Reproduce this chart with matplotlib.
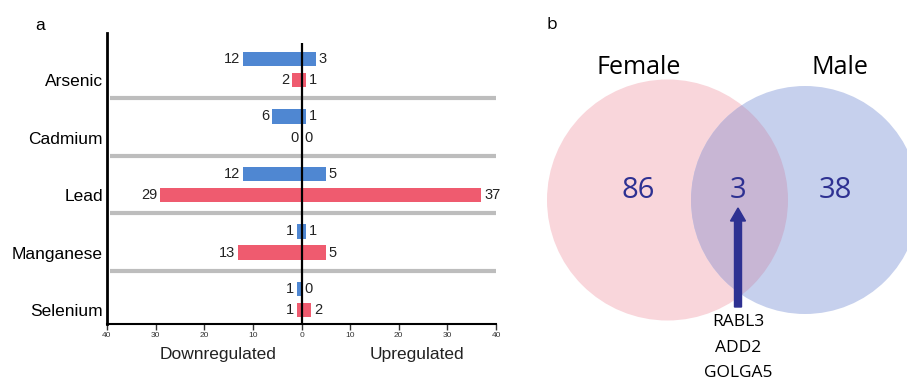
import numpy as np
import matplotlib
matplotlib.use('Agg')
import matplotlib.pyplot as plt
from matplotlib.patches import Circle, FancyArrow

# data
metals = ['Arsenic', 'Cadmium', 'Lead', 'Manganese', 'Selenium']
male_down = [12, 6, 12, 1, 1]
male_up = [3, 1, 5, 1, 0]
female_down = [2, 0, 29, 13, 1]
female_up = [1, 0, 37, 5, 2]

venn_labels = ['Female', 'Male']
venn_counts = [86, 3, 38]   # female only, shared, male only
shared_genes = ['RABL3', 'ADD2', 'GOLGA5']

blue = '#4f87d2'
red = '#ef5b6f'
navy = '#2e3192'

plt.rcParams['font.family'] = ['Liberation Sans', 'DejaVu Sans']

W, H = 907, 380
fig = plt.figure(figsize=(W / 100, H / 100), dpi=100)

# ---------------- panel a ----------------
ax = fig.add_axes([107 / W, 1 - 324 / H, (496 - 107) / W, (324 - 33) / H])
n = len(metals)
idx = np.arange(n)
yb = idx - 0.183
yr = idx + 0.183
bh = 0.25

ax.barh(yb, male_up, height=bh, color=blue, zorder=2)
ax.barh(yb, [-v for v in male_down], height=bh, color=blue, zorder=2)
ax.barh(yr, female_up, height=bh, color=red, zorder=2)
ax.barh(yr, [-v for v in female_down], height=bh, color=red, zorder=2)

for y, d, u in list(zip(yb, male_down, male_up)) + list(zip(yr, female_down, female_up)):
    ax.annotate(str(d), (-d, y), xytext=(-2, 0), textcoords='offset points',
                ha='right', va='center', fontsize=10.5, color='#222222')
    ax.annotate(str(u), (u, y), xytext=(2, 0), textcoords='offset points',
                ha='left', va='center', fontsize=10.5, color='#222222')

# separators between metals
ax.hlines(idx[:-1] + 0.5, -39.4, 40, color='#bdbdbd', lw=3, zorder=1)
ax.vlines(0, -0.46, 4.426, color='black', lw=1.6, zorder=3)

ax.set_xlim(-40, 40)
ax.set_ylim(4.426, -0.635)
ax.set_xticks(np.arange(-40, 41, 10))
ax.set_xticklabels([str(abs(t)) for t in range(-40, 41, 10)], fontsize=6)
ax.tick_params(axis='x', length=4, width=1, pad=2, colors='#333333')
ax.set_yticks(yr)
ax.set_yticklabels(metals, fontsize=12.5)
ax.tick_params(axis='y', length=0, pad=3)
for s in ['top', 'right']:
    ax.spines[s].set_visible(False)
ax.spines['left'].set_linewidth(2)
ax.spines['bottom'].set_linewidth(1.5)

fig.text(218 / W, 1 - 354 / H, 'Downregulated', ha='center', va='center', fontsize=12.5, color='#222222')
fig.text(417 / W, 1 - 354 / H, 'Upregulated', ha='center', va='center', fontsize=12.5, color='#222222')
fig.text(35 / W, 1 - 25 / H, 'a', ha='left', va='center', fontsize=12.5)

# ---------------- panel b ----------------
bx = fig.add_axes([520 / W, 0, (W - 520) / W, 1])
bx.set_xlim(520, W)
bx.set_ylim(H, 0)
bx.axis('off')

fem = Circle((667.5, 200), 120.5, facecolor='#f9d6db', edgecolor='none')
mal = Circle((805, 200), 114, facecolor='#c6d0ed', edgecolor='none')
bx.add_patch(fem)
bx.add_patch(mal)
lens = Circle((805, 200), 114, facecolor='#c8b6d4', edgecolor='none')
bx.add_patch(lens)
lens.set_clip_path(fem)

vfont = ['Open Sans', 'DejaVu Sans']
bx.text(639, 67, venn_labels[0], ha='center', va='center', fontsize=18, family=vfont)
bx.text(840, 67, venn_labels[1], ha='center', va='center', fontsize=18, family=vfont)
for x, c in zip([638, 738, 835], venn_counts):
    bx.text(x, 190, str(c), ha='center', va='center', fontsize=21, color=navy, family=vfont)

bx.add_patch(FancyArrow(738, 307, 0, -99, width=7, head_width=15, head_length=13,
                        length_includes_head=True, color=navy))
for k, g in enumerate(shared_genes):
    bx.text(738, 322 + 25.5 * k, g, ha='center', va='center', fontsize=12.5, family=vfont)

fig.text(547 / W, 1 - 25 / H, 'b', ha='left', va='center', fontsize=12.5, family=vfont)

fig.savefig('out.png', dpi=100)
